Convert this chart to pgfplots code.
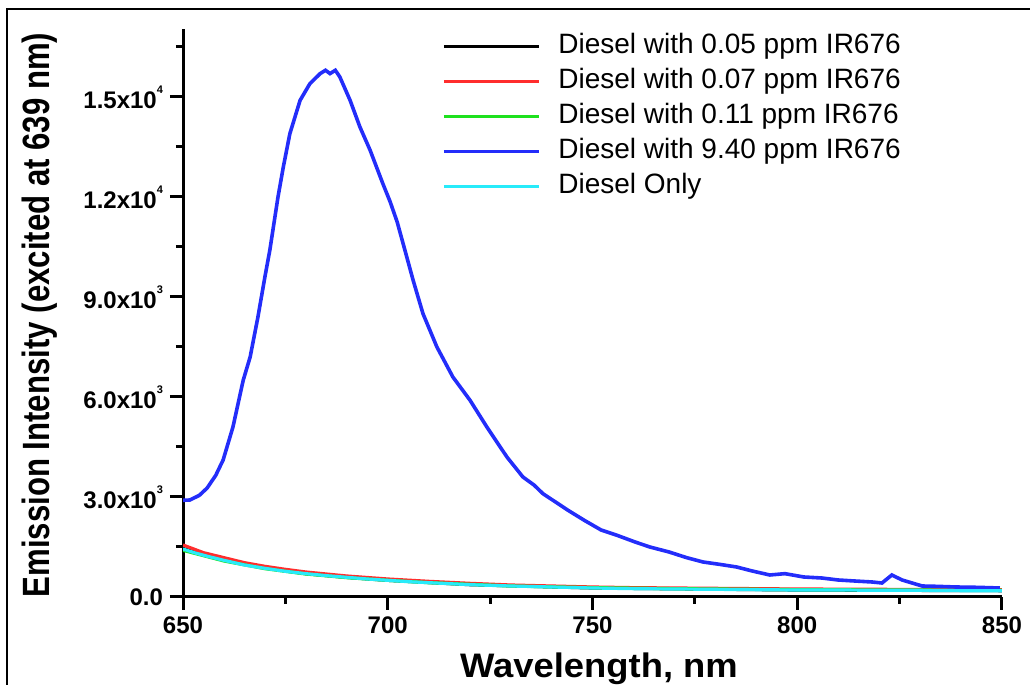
\documentclass[border=0pt]{standalone}
\usepackage{fontspec}
\setmainfont{Liberation Sans}
\usepackage{graphicx}
\usepackage{pgfplots}
\pgfplotsset{compat=1.18}

\definecolor{cRed}{RGB}{255,45,45}
\definecolor{cGreen}{RGB}{30,225,30}
\definecolor{cBlue}{RGB}{35,45,250}
\definecolor{cCyan}{RGB}{40,235,250}

\newcommand{\sci}[2]{#1x10\raisebox{0.62em}{\fontsize{5.5}{5.5}\selectfont #2}}

\begin{document}
\begin{tikzpicture}
\useasboundingbox (0,0) rectangle (515pt,342.5pt);
% frame
\draw[line width=1pt] (3.5pt,-2pt) -- (3.5pt,337.8pt) -- (517pt,337.8pt);

\begin{axis}[
  at={(91.5pt,44pt)}, anchor=south west,
  scale only axis, width=409.5pt, height=284.2pt,
  xmin=650, xmax=850, ymin=0, ymax=17050,
  axis x line*=bottom, axis y line*=left,
  axis line style={line width=1.5pt, black},
  scaled x ticks=false, scaled y ticks=false,
  xtick={650,700,750,800,850},
  xticklabels={650,700,750,800,850},
  minor xtick={675,725,775,825},
  ytick={0,3000,6000,9000,12000,15000},
  yticklabels={0.0,\sci{3.0}{3},\sci{6.0}{3},\sci{9.0}{3},\sci{1.2}{4},\sci{1.5}{4}},
  minor ytick={1500,4500,7500,10500,13500,16500},
  tick align=outside,
  major tick length=6.5pt, minor tick length=3.5pt,
  every tick/.style={line width=1.5pt, black},
  xticklabel style={font=\fontsize{12}{12}\selectfont\bfseries},
  yticklabel style={font=\fontsize{12}{12}\selectfont\bfseries},
  legend style={at={(axis description cs:0.3162,0.9924)}, anchor=north west,
    draw=none, fill=none, inner sep=0pt, column sep=9pt, row sep=4.5pt,
    font=\fontsize{14}{14}\selectfont,
    nodes={inner sep=0pt, text height=10pt, text depth=3pt}},
  legend cell align=left,
  legend image code/.code={\draw[#1, line width=1.5pt] (0pt,0pt) -- (47.5pt,0pt);},
]
% 0.05 ppm
\addplot[black, line width=1.6pt] coordinates {
(650,1450) (660,1110) (670,870) (680,700) (690,590) (700,500) (720,370)
(750,270) (800,210) (850,190)};
% 0.07 ppm
\addplot[cRed, line width=1.6pt] coordinates {
(650,1560) (655,1330) (660,1180) (665,1030) (670,920) (675,830) (680,750)
(690,630) (700,540) (710,470) (720,410) (730,360) (740,330) (750,300)
(760,280) (770,270) (780,260) (790,250) (800,240) (820,230) (850,220)};
% 0.11 ppm
\addplot[cGreen, line width=1.6pt] coordinates {
(650,1400) (660,1080) (670,850) (680,690) (690,580) (700,500) (710,430)
(720,380) (730,330) (750,280) (770,250) (800,220) (850,200)};
% 9.40 ppm
\addplot[cBlue, line width=1.8pt] coordinates {
(650,2900) (651.7,2910) (654,3050) (655.9,3270) (658,3650) (659.8,4110)
(662.2,5100) (664.7,6500) (666.4,7200) (668.3,8400) (670.0,9600)
(671.2,10400) (673.2,12000) (674.5,12900) (676.1,13900) (678.6,14900)
(681.0,15400) (683.5,15700) (684.8,15800) (685.9,15700) (687.2,15800)
(688.3,15600) (690.8,14900) (693.2,14100) (695.7,13400) (698.8,12400)
(700.6,11850) (702.3,11250) (704.2,10400) (706.2,9500) (708.6,8500)
(712.0,7500) (715.9,6600) (720.1,5900) (724.2,5100) (729.1,4200)
(733.0,3600) (735.7,3360) (737.9,3100) (743.9,2610) (748,2300)
(752.1,2010) (756,1850) (760.4,1650) (764,1500) (768.7,1350) (773,1180)
(777.0,1050) (781,980) (785.2,900) (789,780) (793.3,660) (797,700)
(801.6,600) (806,570) (810.0,510) (814,480) (818.3,450) (820.7,420)
(823.1,660) (825.6,510) (830.5,330) (834,320) (838.8,300) (844,290)
(849.5,270)};
% diesel only
\addplot[cCyan, line width=1.6pt] coordinates {
(650,1440) (653,1320) (656,1220) (660,1100) (665,960) (670,860) (675,770)
(680,700) (685,640) (690,590) (695,540) (700,500) (705,460) (710,430)
(720,370) (730,330) (740,300) (750,270) (760,250) (770,240) (780,230)
(790,220) (800,210) (810,210) (820,200) (830,200) (840,190) (850,190)};
\legend{Diesel with 0.05 ppm IR676, Diesel with 0.07 ppm IR676,
  Diesel with 0.11 ppm IR676, Diesel with 9.40 ppm IR676, Diesel Only}
\end{axis}

% axis titles
\node[rotate=90, anchor=base, inner sep=0pt] at (25pt,185pt)
  {\scalebox{0.82}[1]{\fontsize{19}{19}\selectfont\bfseries Emission Intensity (excited at 639 nm)}};
\node[anchor=base, inner sep=0pt] at (299.5pt,3.5pt)
  {\scalebox{1.07}[1]{\fontsize{17}{17}\selectfont\bfseries Wavelength, nm}};
\end{tikzpicture}
\end{document}
